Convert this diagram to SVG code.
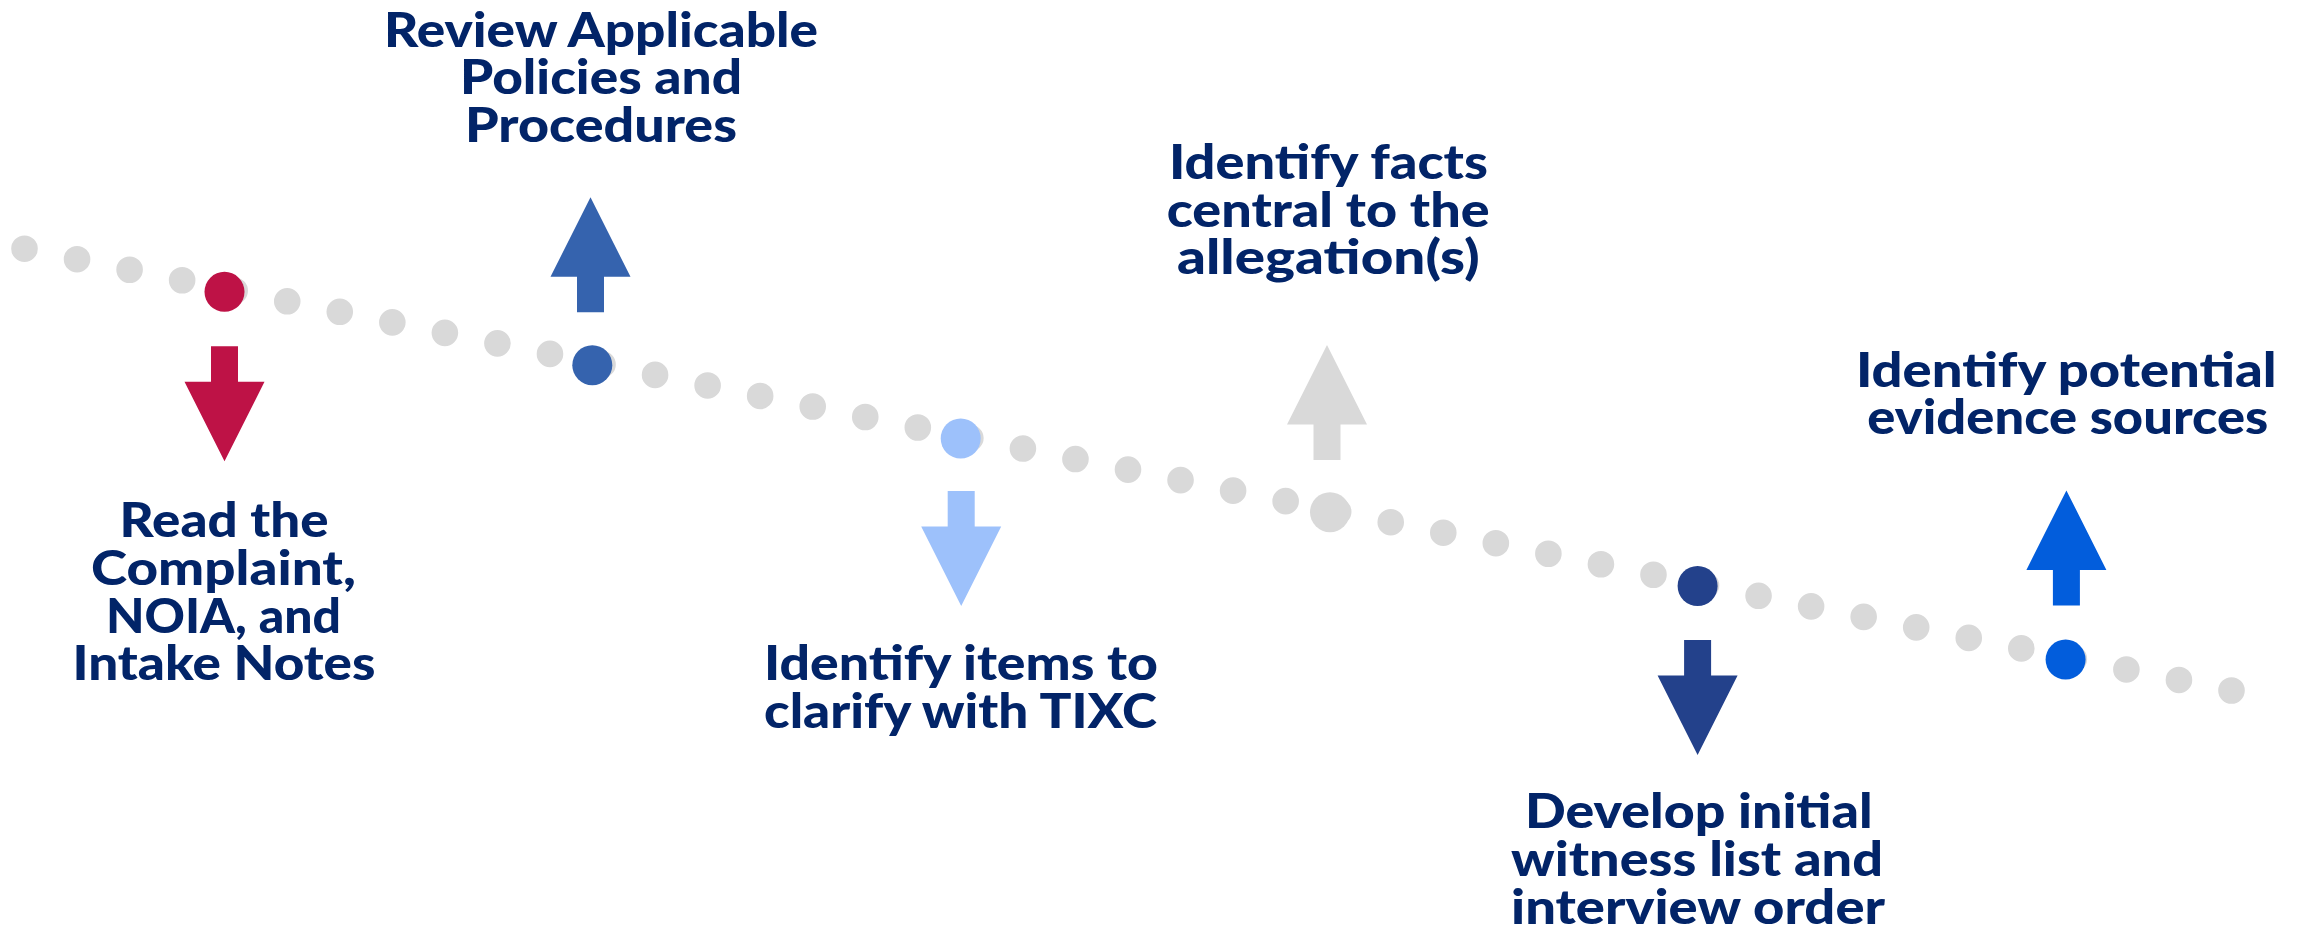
<svg xmlns="http://www.w3.org/2000/svg" xmlns:xlink="http://www.w3.org/1999/xlink" width="2307" height="930" viewBox="0 0 2307 930">
  <style>
    .lbl { font-family: Lato, "Open Sans", "Liberation Sans", sans-serif; font-weight: 900; font-size: 48px; fill: #022468; text-anchor: middle; }
    .dots { stroke: #D9D9D9; stroke-width: 26.6; stroke-linecap: round; stroke-dasharray: 0 53.59; fill: none; }
  </style>
  <defs>
    <path id="arrowDown" d="M-13.5,0 H13.5 V35.5 H40 L0,115 L-40,35.5 H-13.5 Z"/>
    <path id="arrowUp" d="M-13.5,0 H13.5 V-35.5 H40 L0,-115 L-40,-35.5 H-13.5 Z"/>
  </defs>
  <rect width="2307" height="930" fill="#FFFFFF"/>

  <g id="connectors">
    <line class="dots" x1="24.5" y1="248.7" x2="2231.6" y2="690.5"/>
  </g>

  <g id="node-read">
    <circle cx="224.5" cy="291.8" r="20" fill="#BE1246"/>
    <use xlink:href="#arrowDown" x="224.5" y="346.3" fill="#BE1246"/>
    <text class="lbl"><tspan x="224" y="537.3" textLength="209" lengthAdjust="spacingAndGlyphs">Read the</tspan><tspan x="223.5" y="585" textLength="265" lengthAdjust="spacingAndGlyphs">Complaint,</tspan><tspan x="223.5" y="632.7" textLength="235" lengthAdjust="spacingAndGlyphs">NOIA, and</tspan><tspan x="224" y="680" textLength="303" lengthAdjust="spacingAndGlyphs">Intake Notes</tspan></text>
  </g>

  <g id="node-review">
    <circle cx="592.3" cy="365.2" r="20" fill="#3563AE"/>
    <use xlink:href="#arrowUp" x="590.5" y="312.3" fill="#3563AE"/>
    <text class="lbl"><tspan x="601" y="46.7" textLength="434" lengthAdjust="spacingAndGlyphs">Review Applicable</tspan><tspan x="601" y="94.3" textLength="282" lengthAdjust="spacingAndGlyphs">Policies and</tspan><tspan x="601" y="141.7" textLength="272" lengthAdjust="spacingAndGlyphs">Procedures</tspan></text>
  </g>

  <g id="node-clarify">
    <circle cx="960.7" cy="438.5" r="20" fill="#9DC1FB"/>
    <use xlink:href="#arrowDown" x="961.2" y="491" fill="#9DC1FB"/>
    <text class="lbl"><tspan x="961" y="680" textLength="394" lengthAdjust="spacingAndGlyphs">Identify items to</tspan><tspan x="960.5" y="728.3" textLength="393" lengthAdjust="spacingAndGlyphs">clarify with TIXC</tspan></text>
  </g>

  <g id="node-facts">
    <circle cx="1330" cy="512.2" r="20" fill="#D9D9D9"/>
    <use xlink:href="#arrowUp" x="1327" y="460" fill="#D9D9D9"/>
    <text class="lbl"><tspan x="1328.5" y="179" textLength="319" lengthAdjust="spacingAndGlyphs">Identify facts</tspan><tspan x="1328.2" y="226.7" textLength="323" lengthAdjust="spacingAndGlyphs">central to the</tspan><tspan x="1328.3" y="274" textLength="302.6" lengthAdjust="spacingAndGlyphs">allegation(s)</tspan></text>
  </g>

  <g id="node-witness">
    <circle cx="1697.6" cy="586" r="20" fill="#23418B"/>
    <use xlink:href="#arrowDown" x="1697.6" y="640" fill="#23418B"/>
    <text class="lbl"><tspan x="1698.8" y="828.3" textLength="347.6" lengthAdjust="spacingAndGlyphs">Develop initial</tspan><tspan x="1697" y="876" textLength="372" lengthAdjust="spacingAndGlyphs">witness list and</tspan><tspan x="1698" y="923.7" textLength="374" lengthAdjust="spacingAndGlyphs">interview order</tspan></text>
  </g>

  <g id="node-evidence">
    <circle cx="2065.6" cy="659.6" r="20" fill="#025DDC"/>
    <use xlink:href="#arrowUp" x="2066.4" y="605.4" fill="#025DDC"/>
    <text class="lbl"><tspan x="2066.3" y="386.7" textLength="420.7" lengthAdjust="spacingAndGlyphs">Identify potential</tspan><tspan x="2067.8" y="434.3" textLength="401" lengthAdjust="spacingAndGlyphs">evidence sources</tspan></text>
  </g>
</svg>
